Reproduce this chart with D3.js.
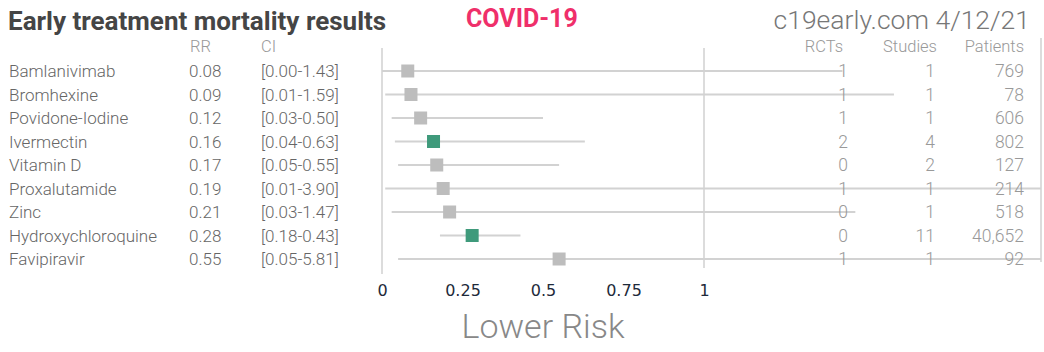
<!DOCTYPE html>
<html>
<head>
<meta charset="utf-8">
<script src="https://cdn.jsdelivr.net/npm/d3@7"></script>
<style>
  body { margin: 0; background: #fff; }
  text { font-family: Roboto, "Open Sans", sans-serif; }
</style>
</head>
<body>
<div id="chart"></div>
<script>
// данные
var treatments = ["Bamlanivimab", "Bromhexine", "Povidone-Iodine", "Ivermectin", "Vitamin D",
  "Proxalutamide", "Zinc", "Hydroxychloroquine", "Favipiravir"]
var rr = [0.08, 0.09, 0.12, 0.16, 0.17, 0.19, 0.21, 0.28, 0.55]
var ciLow = [0.00, 0.01, 0.03, 0.04, 0.05, 0.01, 0.03, 0.18, 0.05]
var ciHigh = [1.43, 1.59, 0.50, 0.63, 0.55, 3.90, 1.47, 0.43, 5.81]
var rcts = [1, 1, 1, 2, 0, 1, 0, 0, 1]
var studies = [1, 1, 1, 4, 2, 1, 1, 11, 1]
var patients = [769, 78, 606, 802, 127, 214, 518, 40652, 92]
var highlighted = ["Ivermectin", "Hydroxychloroquine"]
var xTicks = [0, 0.25, 0.5, 0.75, 1]

var width = 1044, height = 352

var svg = d3.select("#chart").append("svg")
  .attr("width", width)
  .attr("height", height)

var x = d3.scaleLinear().domain([0, 1]).range([382, 704])
var y = d3.scalePoint().domain(treatments).range([71, 259])
var rightEdge = 1041

var rows = treatments.map(function(name, i) {
  return { name: name, rr: rr[i], lo: ciLow[i], hi: ciHigh[i],
    rcts: rcts[i], studies: studies[i], patients: patients[i] }
})

// заголовки
svg.append("text").attr("x", 8).attr("y", 30)
  .style("font-size", "26px").style("font-weight", 700).style("fill", "#454545")
  .text("Early treatment mortality results")
svg.append("text").attr("x", 466).attr("y", 27)
  .style("font-size", "25px").style("font-weight", 700).style("fill", "#ef2f6a")
  .text("COVID-19")
svg.append("text").attr("x", 1030).attr("y", 29).attr("text-anchor", "end")
  .style("font-size", "26.5px").style("font-weight", 300).style("fill", "#777")
  .text("c19early.com 4/12/21")

var headers = [
  { t: "RR", x: 190, a: "start" }, { t: "CI", x: 261, a: "start" },
  { t: "RCTs", x: 843, a: "end" }, { t: "Studies", x: 937, a: "end" }, { t: "Patients", x: 1024, a: "end" }
]
svg.selectAll(".hdr").data(headers).enter().append("text")
  .attr("x", function(d) { return d.x }).attr("y", 52)
  .attr("text-anchor", function(d) { return d.a })
  .style("font-size", "16.5px").style("font-weight", 300).style("fill", "#999")
  .text(function(d) { return d.t })

// вертикальные линии
svg.append("line").attr("x1", x(0)).attr("x2", x(0)).attr("y1", 48).attr("y2", 274)
  .style("stroke", "#d0d0d0").style("stroke-width", 1.5)
svg.append("line").attr("x1", x(1)).attr("x2", x(1)).attr("y1", 48).attr("y2", 268)
  .style("stroke", "#d0d0d0").style("stroke-width", 1.5)
svg.append("line").attr("x1", rightEdge).attr("x2", rightEdge).attr("y1", 38).attr("y2", 262)
  .style("stroke", "#d0d0d0").style("stroke-width", 1.5)

// доверительные интервалы
svg.selectAll(".ci").data(rows).enter().append("line")
  .attr("x1", function(d) { return x(d.lo) })
  .attr("x2", function(d) { return Math.min(x(d.hi), rightEdge) })
  .attr("y1", function(d) { return y(d.name) })
  .attr("y2", function(d) { return y(d.name) })
  .style("stroke", "#d2d2d2").style("stroke-width", 2)

// значения справа (поверх линий)
var cols = [
  { key: "rcts", x: 848 }, { key: "studies", x: 935 }, { key: "patients", x: 1024 }
]
cols.forEach(function(c) {
  svg.selectAll(".c-" + c.key).data(rows).enter().append("text")
    .attr("x", c.x).attr("y", function(d) { return y(d.name) + 6 })
    .attr("text-anchor", "end")
    .style("font-size", "17.5px").style("font-weight", 300).style("fill", "#999")
    .text(function(d) { return c.key == "patients" ? d3.format(",")(d[c.key]) : d[c.key] })
})

// квадратики
var sq = 13
svg.selectAll(".pt").data(rows).enter().append("rect")
  .attr("x", function(d) { return x(d.rr) - sq / 2 })
  .attr("y", function(d) { return y(d.name) - sq / 2 })
  .attr("width", sq).attr("height", sq)
  .style("fill", function(d) { return highlighted.indexOf(d.name) >= 0 ? "#3f9a7b" : "#bdbdbd" })

// левые колонки
var rowFont = "17px"
svg.selectAll(".name").data(rows).enter().append("text")
  .attr("x", 9).attr("y", function(d) { return y(d.name) + 6 })
  .style("font-size", rowFont).style("font-weight", 300).style("fill", "#666")
  .text(function(d) { return d.name })
svg.selectAll(".rr").data(rows).enter().append("text")
  .attr("x", 189).attr("y", function(d) { return y(d.name) + 6 })
  .style("font-size", rowFont).style("font-weight", 300).style("fill", "#666")
  .text(function(d) { return d3.format(".2f")(d.rr) })
svg.selectAll(".cil").data(rows).enter().append("text")
  .attr("x", 261).attr("y", function(d) { return y(d.name) + 6 })
  .style("font-size", rowFont).style("font-weight", 300).style("fill", "#666")
  .text(function(d) { return "[" + d3.format(".2f")(d.lo) + "-" + d3.format(".2f")(d.hi) + "]" })

// ось X
var axis = svg.append("g")
  .attr("transform", "translate(0,278)")
  .call(d3.axisBottom(x).tickValues(xTicks).tickSize(0).tickPadding(7)
    .tickFormat(function(d) { return d3.format("")(d) }))
axis.select(".domain").remove()
axis.selectAll("text")
  .style("font-family", "'DejaVu Sans', sans-serif").style("font-size", "16px").style("fill", "#1e2a3a")

svg.append("text").attr("x", (x(0) + x(1)) / 2).attr("y", 338).attr("text-anchor", "middle")
  .style("font-size", "34px").style("font-weight", 300).style("fill", "#888")
  .text("Lower Risk")
</script>
</body>
</html>
